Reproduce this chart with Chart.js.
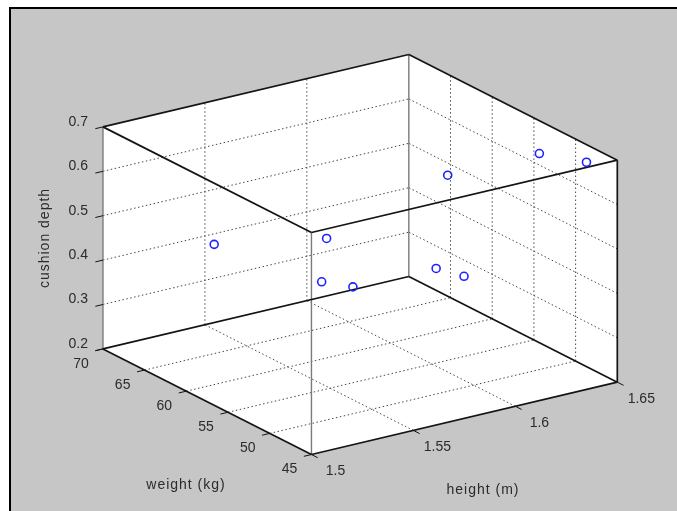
<!DOCTYPE html>
<html>
<head>
<meta charset="utf-8">
<script src="https://cdn.jsdelivr.net/npm/chart.js@4.4.1/dist/chart.umd.min.js"></script>
<style>
  html, body { margin: 0; padding: 0; background: #fff; }
  canvas { display: block; }
</style>
</head>
<body>
<canvas id="cushionChart" width="677" height="511"></canvas>
<script>
// measured subjects
const heights = [1.53, 1.57, 1.55, 1.56, 1.62, 1.60, 1.61, 1.64, 1.65];
const weights = [64, 60.3, 56, 54.7, 58, 54.5, 53.6, 51.9, 48.7];
const depths = [0.46, 0.465, 0.43, 0.42, 0.575, 0.42, 0.40, 0.66, 0.66];

// axis ticks
const heightTicks = [1.5, 1.55, 1.6, 1.65];
const weightTicks = [45, 50, 55, 60, 65, 70];
const depthTicks = [0.2, 0.3, 0.4, 0.5, 0.6, 0.7];

const heightLabels = ['1.5', '1.55', '1.6', '1.65'];
const weightLabels = ['45', '50', '55', '60', '65', '70'];
const depthLabels = ['0.2', '0.3', '0.4', '0.5', '0.6', '0.7'];

// view of the box: where the (1.5, 45, 0.2) corner lands and how far each axis reaches on screen
const origin = { x: 311, y: 459 };
const spanH = { x: 311, y: -74 };
const spanW = { x: -212, y: -108 };
const spanZ = { x: 0, y: -227 };

const hMin = heightTicks[0], hMax = heightTicks[heightTicks.length - 1];
const wMin = weightTicks[0], wMax = weightTicks[weightTicks.length - 1];
const zMin = depthTicks[0], zMax = depthTicks[depthTicks.length - 1];
const hRange = hMax - hMin, wRange = wMax - wMin;

function project(h, w, z) {
    const u = (h - hMin) / (hMax - hMin);
    const v = (w - wMin) / (wMax - wMin);
    const t = (z - zMin) / (zMax - zMin);
    return {
        x: origin.x + u * spanH.x + v * spanW.x + t * spanZ.x,
        y: origin.y + u * spanH.y + v * spanW.y + t * spanZ.y
    };
}

function segment(a, b, color, width, dash, order) {
    return {
        data: [project(a[0], a[1], a[2]), project(b[0], b[1], b[2])],
        showLine: true,
        borderColor: color,
        borderWidth: width,
        borderDash: dash,
        pointRadius: 0,
        order: order
    };
}

const inner = arr => arr.slice(1, -1);
const datasets = [];

// subjects
datasets.push({
    data: heights.map((h, i) => project(h, weights[i], depths[i])),
    pointStyle: 'circle',
    pointRadius: 4,
    pointBorderWidth: 1.6,
    borderColor: '#1e22ff',
    backgroundColor: 'rgba(0,0,0,0)',
    order: 0
});

// dotted grid on the floor and the two back walls
const dots = [1.5, 2.5];
const gridColor = '#4a4a4a';
inner(heightTicks).forEach(h => {
    datasets.push(segment([h, wMin, zMin], [h, wMax, zMin], gridColor, 1, dots, 3));
    datasets.push(segment([h, wMax, zMin], [h, wMax, zMax], gridColor, 1, dots, 3));
});
inner(weightTicks).forEach(w => {
    datasets.push(segment([hMin, w, zMin], [hMax, w, zMin], gridColor, 1, dots, 3));
    datasets.push(segment([hMax, w, zMin], [hMax, w, zMax], gridColor, 1, dots, 3));
});
inner(depthTicks).forEach(z => {
    datasets.push(segment([hMin, wMax, z], [hMax, wMax, z], gridColor, 1, dots, 3));
    datasets.push(segment([hMax, wMin, z], [hMax, wMax, z], gridColor, 1, dots, 3));
});

// box edges
const edge = '#141414';
const post = '#7a7a7a';
[zMin, zMax].forEach(z => {
    datasets.push(segment([hMin, wMin, z], [hMax, wMin, z], edge, 1.7, [], 1));
    datasets.push(segment([hMin, wMin, z], [hMin, wMax, z], edge, 1.7, [], 1));
    datasets.push(segment([hMax, wMax, z], [hMin, wMax, z], edge, 1.7, [], 1));
    datasets.push(segment([hMax, wMax, z], [hMax, wMin, z], edge, 1.7, [], 1));
});
datasets.push(segment([hMin, wMax, zMin], [hMin, wMax, zMax], post, 1.4, [], 2));
datasets.push(segment([hMax, wMax, zMin], [hMax, wMax, zMax], post, 1.4, [], 2));
datasets.push(segment([hMin, wMin, zMin], [hMin, wMin, zMax], post, 1.4, [], 2));
datasets.push(segment([hMax, wMin, zMin], [hMax, wMin, zMax], edge, 1.7, [], 1));

// outward tick marks
depthTicks.forEach(z => {
    datasets.push(segment([hMin, wMax, z], [hMin - 0.025 * hRange, wMax, z], edge, 1, [], 1));
});
weightTicks.forEach(w => {
    datasets.push(segment([hMin, w, zMin], [hMin - 0.025 * hRange, w, zMin], edge, 1, [], 1));
});
heightTicks.forEach(h => {
    datasets.push(segment([h, wMin, zMin], [h, wMin - 0.03 * wRange, zMin], edge, 1, [], 1));
});

const tickFont = '14px "Liberation Sans", Arial, sans-serif';
const textColor = '#2b2b2b';

// gray figure, frame and the white face of the box
const scenePlugin = {
    id: 'scene',
    beforeDraw: (chart) => {
        const { ctx, width, height, scales: { x, y } } = chart;
        ctx.save();
        ctx.fillStyle = '#ffffff';
        ctx.fillRect(0, 0, width, height);
        ctx.fillStyle = '#c5c6c5';
        ctx.fillRect(10, 8, width - 10, height - 8);
        ctx.strokeStyle = '#000000';
        ctx.lineWidth = 2;
        ctx.beginPath();
        ctx.moveTo(10, height);
        ctx.lineTo(10, 8);
        ctx.lineTo(width, 8);
        ctx.stroke();

        const outline = [
            [hMin, wMax, zMax], [hMax, wMax, zMax], [hMax, wMin, zMax],
            [hMax, wMin, zMin], [hMin, wMin, zMin], [hMin, wMax, zMin]
        ];
        ctx.fillStyle = '#ffffff';
        ctx.beginPath();
        outline.forEach((c, i) => {
            const p = project(c[0], c[1], c[2]);
            const px = x.getPixelForValue(p.x), py = y.getPixelForValue(p.y);
            if (i === 0) ctx.moveTo(px, py); else ctx.lineTo(px, py);
        });
        ctx.closePath();
        ctx.fill();
        ctx.restore();
    }
};

// tick labels and axis titles
const labelPlugin = {
    id: 'axisText',
    afterDraw: (chart) => {
        const { ctx, scales: { x, y } } = chart;
        const at = (h, w, z) => {
            const p = project(h, w, z);
            return { x: x.getPixelForValue(p.x), y: y.getPixelForValue(p.y) };
        };
        ctx.save();
        ctx.fillStyle = textColor;
        ctx.font = tickFont;
        ctx.textBaseline = 'middle';

        ctx.textAlign = 'right';
        depthTicks.forEach((z, i) => {
            const p = at(hMin, wMax, z);
            ctx.fillText(depthLabels[i], p.x - 15, p.y - 5);
        });

        ctx.textAlign = 'center';
        weightTicks.forEach((w, i) => {
            const p = at(hMin, w, zMin);
            ctx.fillText(weightLabels[i], p.x - 22, p.y + 15);
        });
        heightTicks.forEach((h, i) => {
            const p = at(h, wMin, zMin);
            ctx.fillText(heightLabels[i], p.x + 24, p.y + 17);
        });

        ctx.font = '14px "Liberation Sans", Arial, sans-serif';
        ctx.letterSpacing = '1px';
        ctx.fillText('weight (kg)', 186, 485);
        ctx.fillText('height (m)', 483, 490);
        ctx.translate(45, 238);
        ctx.rotate(-Math.PI / 2);
        ctx.fillText('cushion depth', 0, 0);
        ctx.restore();
    }
};

new Chart(document.getElementById('cushionChart'), {
    type: 'scatter',
    data: { datasets: datasets },
    options: {
        responsive: false,
        animation: false,
        layout: { padding: 0 },
        plugins: {
            legend: { display: false },
            tooltip: { enabled: false }
        },
        scales: {
            x: { type: 'linear', min: 0, max: 677, display: false },
            y: { type: 'linear', min: 0, max: 511, reverse: true, display: false }
        }
    },
    plugins: [scenePlugin, labelPlugin]
});
</script>
</body>
</html>
